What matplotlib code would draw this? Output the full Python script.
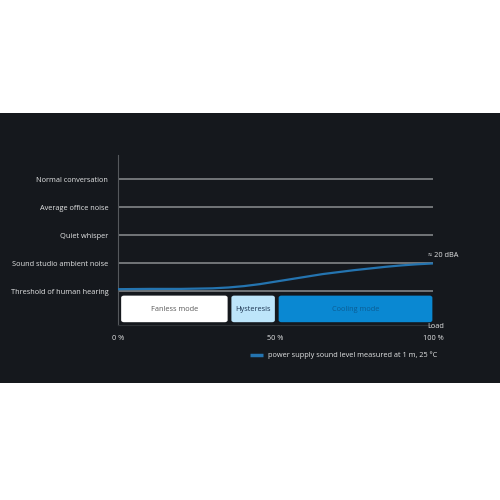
import numpy as np
import matplotlib.pyplot as plt
from matplotlib.patches import Rectangle, FancyBboxPatch

plt.rcParams['font.family'] = ['Open Sans', 'DejaVu Sans']

# data ----------------------------------------------
levels = ["Threshold of human hearing", "Sound studio ambient noise",
          "Quiet whisper", "Average office noise", "Normal conversation"]

load_pct = [0, 10, 20, 30, 35, 40, 45, 50, 55, 60, 65, 70, 75, 80, 85, 90, 95, 100]
noise_lvl = [0.08, 0.09, 0.09, 0.11, 0.14, 0.19, 0.26, 0.35, 0.44, 0.53, 0.62, 0.69,
             0.76, 0.82, 0.88, 0.93, 0.97, 1.0]

modes = ["Fanless mode", "Hysteresis", "Cooling mode"]
mode_start = [0, 35, 50]
mode_end = [35, 50, 100]
mode_face = ["#ffffff", "#bde5fa", "#0a88d2"]
mode_text = ["#5a5a5a", "#1c3552", "#0b5d94"]

xticks = [0, 50, 100]
xticklabels = ["0 %", "50 %", "100 %"]
# ---------------------------------------------------

bg = "#15181d"
fg = "#e4e5e6"
grid = "#8b8e91"
blue = "#2474b0"
fs = 5.3

fig = plt.figure(figsize=(5, 5), dpi=100, facecolor="white")
fig.patches.append(Rectangle((0, 0.234), 1, 0.54, transform=fig.transFigure,
                             facecolor=bg, edgecolor="none", zorder=-10))

ax = fig.add_axes([118 / 500, 175 / 500, 315 / 500, 170 / 500])
ax.set_zorder(5)
ax.set_facecolor("none")
ax.set_xlim(0, 100)
ax.set_ylim(-1.2, 4.875)

for s in ["top", "right"]:
    ax.spines[s].set_visible(False)
ax.spines["left"].set_color("#55585c")
ax.spines["bottom"].set_color("#2e3236")
ax.spines["left"].set_linewidth(0.8)
ax.spines["bottom"].set_linewidth(0.8)

ax.set_yticks(range(len(levels)))
ax.set_yticklabels(levels, fontsize=fs, color=fg)
ax.tick_params(axis="y", length=0, pad=7)
ax.set_xticks(xticks)
ax.set_xticklabels(xticklabels, fontsize=fs, color=fg)
ax.tick_params(axis="x", length=0, pad=7)

ax.hlines(range(len(levels)), 0, 100, color=grid, linewidth=1.1, zorder=1)

ax.plot(load_pct, noise_lvl, color=blue, linewidth=1.6, zorder=3,
        solid_capstyle="butt", solid_joinstyle="round",
        label="power supply sound level measured at 1 m, 25 °C")

for name, a, b, fc, tc in zip(modes, mode_start, mode_end, mode_face, mode_text):
    x0 = a + 1.0
    x1 = b - 0.2
    box = FancyBboxPatch((x0, -1.1), x1 - x0, 0.95,
                         boxstyle="round,pad=0,rounding_size=0.9",
                         mutation_aspect=0.08,
                         facecolor=fc, edgecolor="none", zorder=2)
    ax.add_patch(box)
    ax.text((x0 + x1) / 2, -0.63, name, ha="center", va="center",
            fontsize=fs, color=tc, zorder=4)

ax.text(98.5, 1.3, "≈ 20 dBA", fontsize=fs, color=fg, ha="left", va="center")
ax.text(101, -1.25, "Load", fontsize=fs, color=fg, ha="center", va="center")

leg = ax.legend(loc="upper left", bbox_to_anchor=(0.41, -0.14), frameon=False,
                fontsize=fs, handlelength=1.8, handletextpad=0.6, borderaxespad=0)
for t in leg.get_texts():
    t.set_color(fg)
for h in leg.get_lines():
    h.set_linewidth(2.5)

fig.savefig("out.png", dpi=100, facecolor="white")
